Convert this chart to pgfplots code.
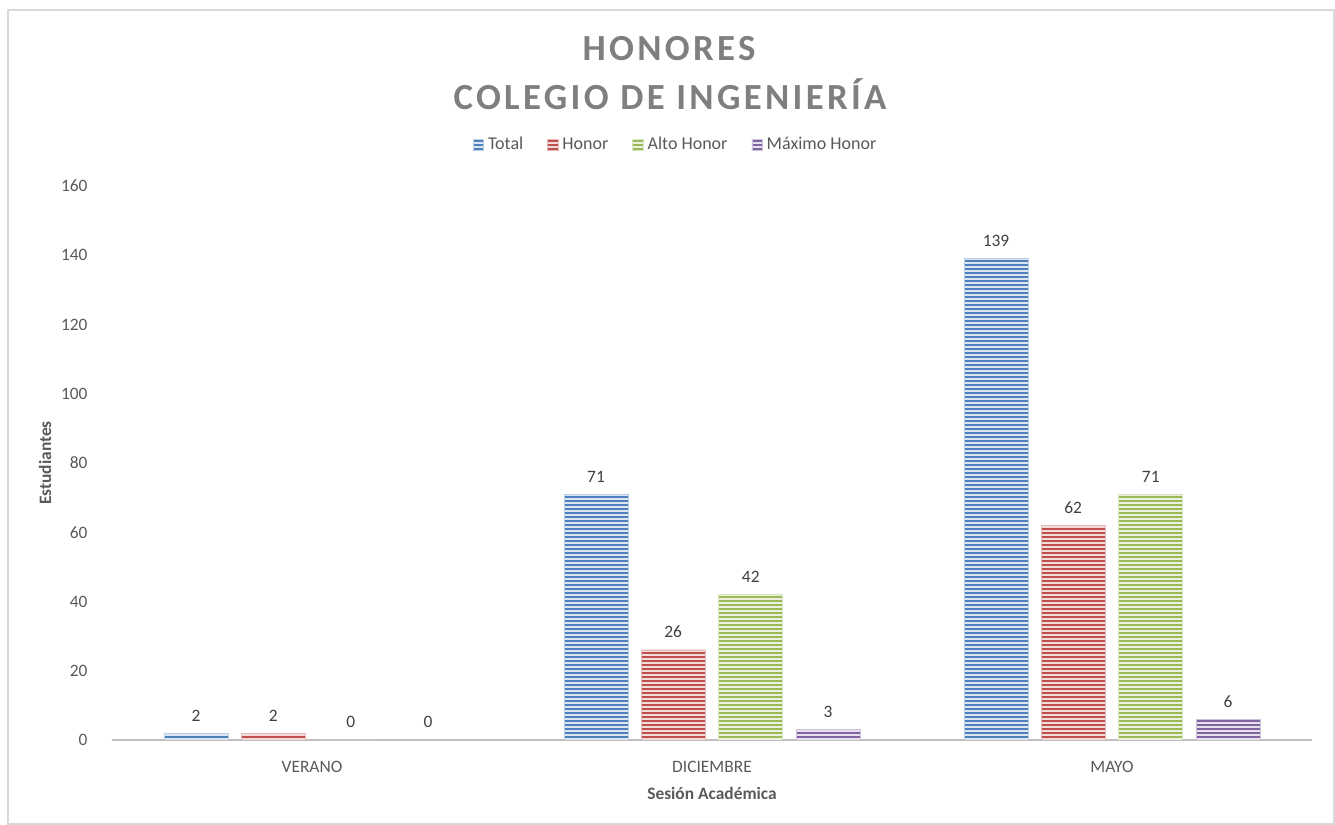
\documentclass[border=0pt]{standalone}
\usepackage{fontspec}
\setmainfont{Carlito}
\usepackage{pgfplots}
\pgfplotsset{compat=1.18}
\usetikzlibrary{patterns.meta}
\definecolor{cblue}{HTML}{4F81BD}
\definecolor{cred}{HTML}{C0504D}
\definecolor{cgreen}{HTML}{9BBB59}
\definecolor{cpurple}{HTML}{8064A2}
\definecolor{txt}{HTML}{595959}
\definecolor{axgray}{HTML}{BFBFBF}
\definecolor{ttl}{HTML}{7F7F7F}
\tikzset{
  stripe/.style={fill=#1!20, draw=#1!40, line width=0.4pt,
    postaction={pattern={Lines[angle=0,distance=2pt,line width=1pt]}, pattern color=#1}},
}
\begin{document}
\begin{tikzpicture}
\path[use as bounding box] (0,0) rectangle (667.5pt,412.5pt);
\draw[color=black!15, line width=0.8pt] (4pt,0.4pt) rectangle (667.1pt,407.5pt);
\node[font=\fontsize{18.4}{20}\selectfont\bfseries\addfontfeature{LetterSpace=9}, text=ttl] at (334.5pt,388pt) {HONORES};
\node[font=\fontsize{18.4}{20}\selectfont\bfseries\addfontfeature{LetterSpace=9}, text=ttl] at (335pt,365.5pt) {COLEGIO DE INGENIERÍA};
\begin{axis}[
  at={(56pt,42.5pt)}, anchor=south west,
  scale only axis, width=600pt, height=277pt,
  xmin=-0.5, xmax=2.5, ymin=0, ymax=160,
  ytick={0,20,...,160},
  xtick={0,1,2}, xticklabels={VERANO,DICIEMBRE,MAYO},
  major tick length=0pt,
  axis y line*=left, axis x line*=bottom,
  y axis line style={draw=none},
  x axis line style={draw=axgray, line width=1pt, -},
  ticklabel style={font=\fontsize{8.7}{10}\selectfont, text=txt},
  yticklabel style={xshift=-8.7pt},
  xticklabel style={yshift=-7pt},
  /pgf/number format/assume math mode=true,
  xlabel={Sesión Académica}, ylabel={Estudiantes},
  label style={font=\fontsize{8.7}{10}\selectfont\bfseries, text=txt},
  xlabel style={at={(axis description cs:0.5,0)}, anchor=center, yshift=-26.5pt},
  ylabel style={at={(axis description cs:0,0.5)}, anchor=center, yshift=33.5pt},
  ybar, bar width=0.16,
  nodes near coords,
  every node near coord/.append style={font=\fontsize{8.7}{10}\selectfont, text=black!75, yshift=2.5pt},
  legend columns=4,
  legend style={at={(axis description cs:0.4705,1.074)}, anchor=center, draw=none,
    font=\fontsize{9}{10}\selectfont, text=txt,
    /tikz/every even column/.append style={column sep=10pt}},
  legend image code/.code={\draw[#1, draw opacity=1] (0pt,-2.6pt) rectangle (5.2pt,2.6pt);},
]
\addplot[stripe=cblue, bar shift=-0.29] coordinates {(0,2) (1,71) (2,139)};
\addplot[stripe=cred, bar shift=-0.097] coordinates {(0,2) (1,26) (2,62)};
\addplot[stripe=cgreen, bar shift=0.097] coordinates {(0,0) (1,42) (2,71)};
\addplot[stripe=cpurple, bar shift=0.29] coordinates {(0,0) (1,3) (2,6)};
\legend{Total,Honor,Alto Honor,Máximo Honor}
\end{axis}
\end{tikzpicture}
\end{document}
